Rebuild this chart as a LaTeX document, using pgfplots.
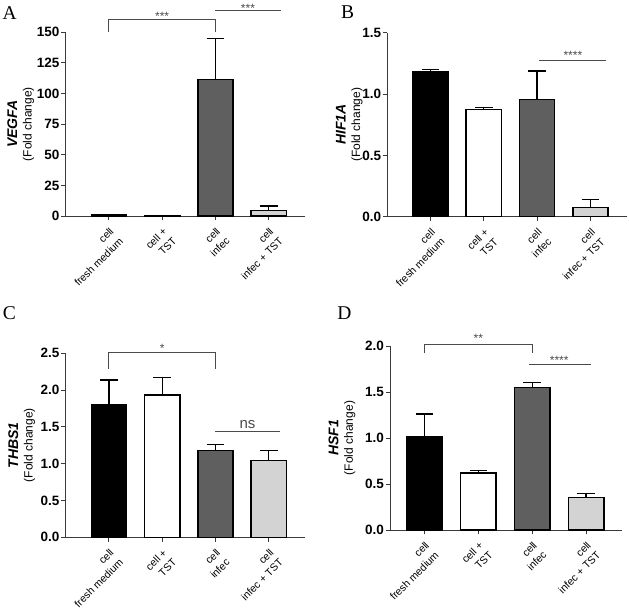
\documentclass[border=0pt]{standalone}
\usepackage{graphicx}
\usepackage{pgfplots}
\pgfplotsset{compat=1.18}
\usepackage{fontspec}
\setmainfont{Liberation Sans}
\newfontfamily\letterfont{Liberation Serif}

\definecolor{infec}{HTML}{5F5F5F}
\definecolor{infectst}{HTML}{D3D3D3}
\definecolor{axisgray}{HTML}{3A3A3A}
\definecolor{brkgray}{HTML}{4A4A4A}

\newcommand\catfont{\fontsize{10.5}{13.5}\selectfont}
\newcommand\tickfont{\bfseries\fontsize{13.5}{14}\selectfont}
\newcommand\gene[1]{{\bfseries\itshape\fontsize{14}{15}\selectfont #1}}
% two-line category name, right-aligned and turned by 45 degrees
\newcommand\catlabel[2]{\rotatebox{45}{\catfont\begin{tabular}{@{}r@{}}#1\\#2\end{tabular}}}

\pgfplotsset{
  gp/.style={
    scale only axis, clip=false,
    axis x line=bottom, axis y line=left,
    axis line style={-, line width=0.9pt, draw=axisgray},
    tick style={line width=0.9pt, draw=axisgray},
    tick align=outside, major tick length=4.5pt,
    xtick={0,1,2,3}, xticklabels={},
    y tick label style={font=\tickfont, inner sep=1.5pt},
    /pgf/number format/assume math mode=true,
    ymin=0, xmin=-0.81, xmax=3.68,
    ylabel style={anchor=center, align=center, font=\fontsize{12}{14.5}\selectfont},
  },
  onedec/.style={y tick label style={/pgf/number format/.cd, fixed, fixed zerofill, precision=1, /tikz/.cd}},
  gbar/.style={ybar, bar width=0.66, bar shift=0pt, draw=black, line width=1.5pt,
    error bars/y dir=plus, error bars/y explicit,
    error bars/error bar style={line width=1.3pt, black},
    error bars/error mark options={rotate=90, mark size=8.8pt, line width=1.3pt, black}},
}
\tikzset{
  brk/.style={draw=brkgray, line width=0.8pt},
  stars/.style={font=\fontsize{12}{12}\selectfont, text=brkgray, yshift=-2pt},
  nslab/.style={font=\fontsize{15}{15}\selectfont, text=brkgray},
  panel/.style={font=\letterfont\fontsize{19.5}{20}\selectfont},
  cat/.style={anchor=north east, inner sep=0pt, xshift=18pt, yshift=-9.5pt},
}
% category names under the four ticks
\newcommand\categories{%
  \node[cat] at (axis cs:0,0) {\catlabel{cell}{fresh medium}};
  \node[cat] at (axis cs:1,0) {\catlabel{cell +}{TST}};
  \node[cat] at (axis cs:2,0) {\catlabel{cell}{infec}};
  \node[cat] at (axis cs:3,0) {\catlabel{cell}{infec + TST}};
}

\begin{document}
\begin{tikzpicture}
\useasboundingbox (0pt,0pt) rectangle (629pt,613pt);

% A: VEGFA
\begin{axis}[gp, at={(65.7pt,397pt)}, anchor=south west, width=239.3pt, height=183.7pt,
  ymax=150, ytick={0,25,50,75,100,125,150},
  ylabel={\gene{VEGFA}\\(Fold change)},
  ylabel style={at={([xshift=-45pt]rel axis cs:0,0.5)}}]
\addplot[gbar, fill=black] coordinates {(0,1.0) +- (0,0.4)};
\addplot[gbar, fill=white] coordinates {(1,0.5) +- (0,0.1)};
\addplot[gbar, fill=infec] coordinates {(2,111.6) +- (0,33.5)};
\addplot[gbar, fill=infectst] coordinates {(3,4.3) +- (0,3.9)};
\categories
\draw[brk] (axis cs:0,150) -- (axis cs:0,160.6) -- (axis cs:2,160.6) -- (axis cs:2,150);
\node[stars] at (axis cs:1,165) {***};
\draw[brk] (axis cs:2,167.5) -- (axis cs:3.23,167.5);
\node[stars] at (axis cs:2.61,171.5) {***};
\end{axis}

% B: HIF1A
\begin{axis}[gp, onedec, at={(387.3pt,396.3pt)}, anchor=south west, width=239.4pt, height=184pt,
  ymax=1.5, ytick={0,0.5,1,1.5},
  ylabel={\gene{HIF1A}\\(Fold change)},
  ylabel style={at={([xshift=-38pt]rel axis cs:0,0.5)}}]
\addplot[gbar, fill=black] coordinates {(0,1.185) +- (0,0.014)};
\addplot[gbar, fill=white] coordinates {(1,0.872) +- (0,0.019)};
\addplot[gbar, fill=infec] coordinates {(2,0.957) +- (0,0.231)};
\addplot[gbar, fill=infectst] coordinates {(3,0.076) +- (0,0.065)};
\categories
\draw[brk] (axis cs:2.04,1.277) -- (axis cs:3.29,1.277);
\node[stars] at (axis cs:2.67,1.332) {****};
\end{axis}

% C: THBS1
\begin{axis}[gp, onedec, at={(65.7pt,75.7pt)}, anchor=south west, width=239.3pt, height=184pt,
  ymax=2.5, ytick={0,0.5,1,1.5,2,2.5},
  ylabel={\gene{THBS1}\\(Fold change)},
  ylabel style={at={([xshift=-44pt]rel axis cs:0,0.5)}}]
\addplot[gbar, fill=black] coordinates {(0,1.798) +- (0,0.340)};
\addplot[gbar, fill=white] coordinates {(1,1.934) +- (0,0.240)};
\addplot[gbar, fill=infec] coordinates {(2,1.178) +- (0,0.086)};
\addplot[gbar, fill=infectst] coordinates {(3,1.042) +- (0,0.140)};
\categories
\draw[brk] (axis cs:0,2.287) -- (axis cs:0,2.514) -- (axis cs:2,2.514) -- (axis cs:2,2.287);
\node[stars] at (axis cs:1,2.59) {*};
\draw[brk] (axis cs:2,1.436) -- (axis cs:3.21,1.436);
\node[nslab] at (axis cs:2.6,1.526) {ns};
\end{axis}

% D: HSF1
\begin{axis}[gp, onedec, at={(390pt,83pt)}, anchor=south west, width=231.7pt, height=184pt,
  xmin=-0.64, xmax=3.66,
  ymax=2, ytick={0,0.5,1,1.5,2},
  ylabel={\gene{HSF1}\\(Fold change)},
  ylabel style={at={([xshift=-48pt]rel axis cs:0,0.5)}}]
\addplot[gbar, fill=black] coordinates {(0,1.014) +- (0,0.247)};
\addplot[gbar, fill=white] coordinates {(1,0.617) +- (0,0.028)};
\addplot[gbar, fill=infec] coordinates {(2,1.547) +- (0,0.054)};
\addplot[gbar, fill=infectst] coordinates {(3,0.355) +- (0,0.044)};
\categories
\draw[brk] (axis cs:0,1.92) -- (axis cs:0,2.022) -- (axis cs:2,2.022) -- (axis cs:2,1.92);
\node[stars] at (axis cs:1,2.10) {**};
\draw[brk] (axis cs:1.94,1.804) -- (axis cs:3.09,1.804);
\node[stars] at (axis cs:2.5,1.866) {****};
\end{axis}

\node[panel] at (9.7pt,599.5pt) {A};
\node[panel] at (347.7pt,601.3pt) {B};
\node[panel] at (9.3pt,299.7pt) {C};
\node[panel] at (344.3pt,299.7pt) {D};
\end{tikzpicture}
\end{document}
